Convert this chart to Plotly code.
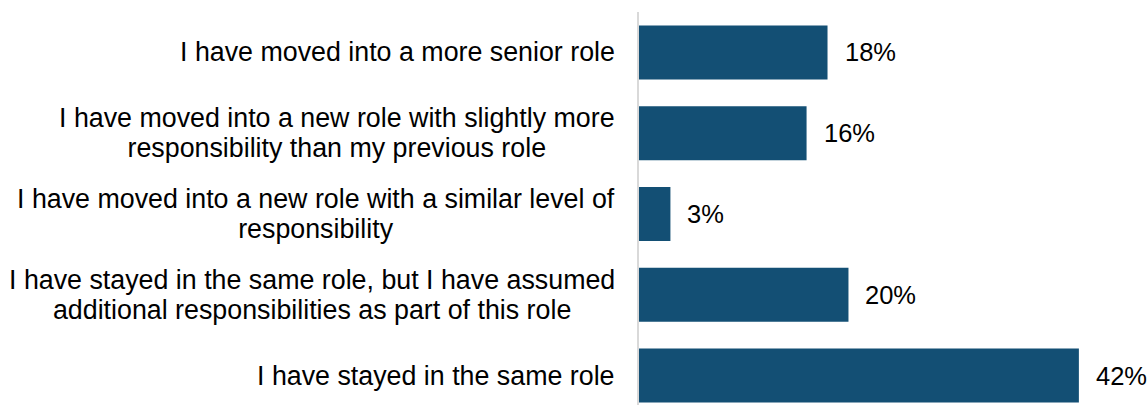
import plotly.graph_objects as go

# Survey responses: change in role, share of respondents
categories = [
    ["I have moved into a more senior role"],
    ["I have moved into a new role with slightly more",
     "responsibility than my previous role"],
    ["I have moved into a new role with a similar level of",
     "responsibility"],
    ["I have stayed in the same role, but I have assumed",
     "additional responsibilities as part of this role"],
    ["I have stayed in the same role"],
]
values = [18, 16, 3, 20, 42]
value_labels = ["18%", "16%", "3%", "20%", "42%"]

positions = list(range(len(categories)))

BAR_COLOR = "#134F74"
FONT = "Liberation Sans, Arial, sans-serif"
LABEL_SIZE = 26.8
VALUE_SIZE = 25.5
# base size drives the line spacing of wrapped labels (1.3 x base)
LINE_BASE = 23


def styled(lines, size):
    return "<br>".join(
        f"<span style='font-size:{size}px'>{ln}</span>" for ln in lines
    )


fig = go.Figure()
fig.add_trace(go.Bar(
    x=values,
    y=positions,
    orientation="h",
    width=0.668,
    marker=dict(color=BAR_COLOR, line=dict(width=0)),
    hoverinfo="skip",
))

# Category labels, centred line by line, right-aligned to the axis
for pos, lines in zip(positions, categories):
    fig.add_annotation(
        x=0, xref="paper", y=pos, yref="y",
        text=styled(lines, LABEL_SIZE), showarrow=False,
        xanchor="right", yanchor="middle", align="center",
        xshift=-22,
        font=dict(family=FONT, size=LINE_BASE, color="#000000"),
    )

# Value labels just past each bar end
for pos, val, lab in zip(positions, values, value_labels):
    fig.add_annotation(
        x=val, xref="x", y=pos, yref="y",
        text=lab, showarrow=False,
        xanchor="left", yanchor="middle",
        xshift=15,
        font=dict(family=FONT, size=VALUE_SIZE, color="#000000"),
    )

fig.update_layout(
    width=1148, height=405,
    margin=dict(l=639, r=0, t=12, b=0),
    paper_bgcolor="white", plot_bgcolor="white",
    showlegend=False,
    font=dict(family=FONT, size=LABEL_SIZE, color="#000000"),
    xaxis=dict(
        range=[0, 48.6], visible=False, showgrid=False, zeroline=False,
    ),
    yaxis=dict(
        range=[4.364, -0.5],
        showticklabels=False, showgrid=False, zeroline=False,
        showline=True, linecolor="#D9D9D9", linewidth=2,
        ticks="",
    ),
)

fig.write_html("out.html")
